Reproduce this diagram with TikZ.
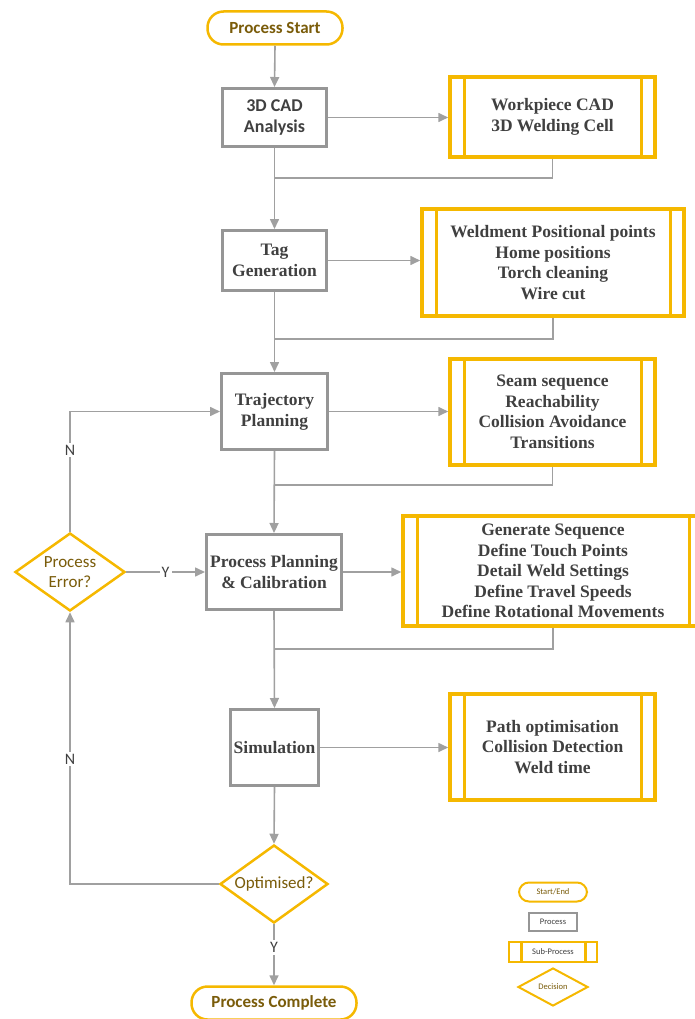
\documentclass[tikz,border=0pt]{standalone}
\usepackage{fontspec}
\setmainfont{Liberation Serif}
\newfontfamily\carlito{Carlito}
\usetikzlibrary{shapes.geometric,arrows.meta}

\definecolor{gold}{RGB}{245,184,0}
\definecolor{boxgray}{RGB}{150,150,150}
\definecolor{linegray}{RGB}{160,160,160}
\definecolor{txtgray}{RGB}{64,64,64}
\definecolor{termbrown}{RGB}{122,92,10}

\tikzset{
  terminal/.style={draw=gold, line width=2.5pt, rounded corners=16pt, fill=white,
    text=termbrown, font=\carlito\bfseries\fontsize{17}{20}\selectfont},
  process/.style={draw=boxgray, line width=3pt, fill=white, align=center,
    text=txtgray, font=\bfseries\fontsize{17.5}{21}\selectfont},
  subproc/.style={draw=gold, line width=3.5pt, fill=white, align=center,
    text=txtgray, font=\bfseries\fontsize{17.5}{20.5}\selectfont,
    path picture={
      \draw[gold, line width=3pt]
        ([xshift=#1]path picture bounding box.north west) -- ([xshift=#1]path picture bounding box.south west)
        ([xshift=-#1]path picture bounding box.north east) -- ([xshift=-#1]path picture bounding box.south east);
    }},
  subproc/.default=14pt,
  decision/.style={diamond, aspect=1.4, draw=gold, line width=2.5pt, fill=white, inner sep=0pt,
    align=center, text=termbrown, font=\carlito\fontsize{17}{20}\selectfont},
  conn/.style={draw=linegray, line width=1.6pt, -{Triangle[length=10pt,width=9pt]}},
  link/.style={draw=linegray, line width=1.6pt},
  yn/.style={fill=white, text=txtgray, inner sep=2pt, font=\carlito\fontsize{16}{18}\selectfont}
}

\begin{document}
\begin{tikzpicture}[x=1pt, y=-1pt]
    \useasboundingbox (0,0) rectangle (694,1019);

    % Main column
    \node[terminal, minimum width=135pt, minimum height=33pt] (start) at (275,28) {Process Start};
    \node[process, font=\carlito\bfseries\fontsize{18}{21}\selectfont, minimum width=104pt, minimum height=58pt] (cad) at (274.5,117.5) {3D CAD\\Analysis};
    \node[process, minimum width=104pt, minimum height=60pt] (tag) at (274.5,260.5) {Tag\\Generation};
    \node[process, minimum width=106pt, minimum height=76pt] (traj) at (274.5,411.5) {Trajectory\\Planning};
    \node[process, minimum width=135pt, minimum height=75pt] (pp) at (274,572) {Process Planning\\\& Calibration};
    \node[process, minimum width=80pt, minimum height=76pt] (sim) at (274.5,747.5) {Simulation};
    \node[decision, minimum width=108pt, minimum height=78pt] (opt) at (274,884) {Optimised?};
    \node[terminal, minimum width=165pt, minimum height=33pt] (done) at (274,1003) {Process Complete};
    \node[decision, minimum width=110pt, minimum height=78pt] (err) at (70,572) {Process\\Error?};

    % Sub-processes
    \node[subproc, minimum width=205pt, minimum height=80pt] (cadsub) at (552.5,117) {Workpiece CAD\\3D Welding Cell};
    \node[subproc, minimum width=262pt, minimum height=107pt] (tagsub) at (553,262.5) {Weldment Positional points\\Home positions\\Torch cleaning\\Wire cut};
    \node[subproc, minimum width=205pt, minimum height=106pt] (trajsub) at (552.5,412) {Seam sequence\\Reachability\\Collision Avoidance\\Transitions};
    \node[subproc, minimum width=300pt, minimum height=110pt] (ppsub) at (553,571) {Generate Sequence\\Define Touch Points\\Detail Weld Settings\\Define Travel Speeds\\Define Rotational Movements};
    \node[subproc, minimum width=205pt, minimum height=106pt] (simsub) at (552.5,747) {Path optimisation\\Collision Detection\\Weld time};

    % Joints on the main line
    \coordinate (j1) at (275,178);
    \coordinate (j2) at (275,339);
    \coordinate (j3) at (275,485);
    \coordinate (j4) at (275,649);

    % Main flow
    \draw[conn] (start.south) -- (cad.north);
    \draw[conn] (cad.south) -- (tag.north);
    \draw[conn] (tag.south) -- (traj.north);
    \draw[conn] (traj.south) -- (pp.north);
    \draw[conn] (pp.south) -- (sim.north);
    \draw[conn] (sim.south) -- (opt.north);
    \draw[conn] (opt.south) -- node[yn, pos=0.38] {Y} (done.north);

    % To the sub-processes and back
    \draw[conn] (cad.east) -- (cad.east -| cadsub.west);
    \draw[conn] (tag.east) -- (tag.east -| tagsub.west);
    \draw[conn] (traj.east) -- (traj.east -| trajsub.west);
    \draw[conn] (pp.east) -- (pp.east -| ppsub.west);
    \draw[conn] (sim.east) -- (sim.east -| simsub.west);
    \draw[link] (cadsub.south) |- (j1);
    \draw[link] (tagsub.south) |- (j2);
    \draw[link] (trajsub.south) |- (j3);
    \draw[link] (ppsub.south) |- (j4);

    % Loops
    \draw[conn] (opt.west) -| node[yn, pos=0.73] {N} (err.south);
    \draw[conn] (err.north) |- node[yn, pos=0.34] {N} (traj.west);
    \draw[conn] (err.east) -- node[yn] {Y} (pp.west);

    % Legend
    \node[terminal, rounded corners=10pt, line width=2pt, minimum width=68pt, minimum height=19pt, font=\carlito\fontsize{8.5}{10}\selectfont] (legstart) at (553,892) {Start/End};
    \node[process, line width=2.5pt, minimum width=48pt, minimum height=18pt, font=\carlito\fontsize{8.5}{10}\selectfont] (legproc) at (553,922) {Process};
    \node[subproc=12pt, line width=2.5pt, minimum width=88pt, minimum height=20pt, font=\carlito\fontsize{8.5}{10}\selectfont] (legsub) at (553,952) {Sub-Process};
    \node[decision, line width=2pt, minimum width=70pt, minimum height=38pt, font=\carlito\fontsize{8.5}{10}\selectfont] (legdec) at (553,987) {Decision};
\end{tikzpicture}
\end{document}
